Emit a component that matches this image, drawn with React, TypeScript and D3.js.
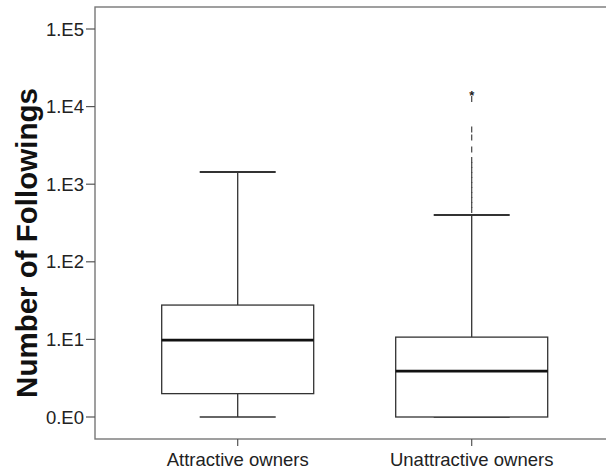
import React from "react";
import * as d3 from "d3";

// groups and five-number summaries
const groups = ["Attractive owners", "Unattractive owners"];
const whiskerLow = [1, 1];
const boxLow = [2, 1];
const medians = [9.8, 3.9];
const boxHigh = [27.7, 10.7];
const whiskerHigh = [1440, 400];

// outliers of the second group (drawn as short dashes), extreme as a star
const outlierValues = [465, 540, 626, 726, 842, 977, 1133, 1314, 1524, 1767, 2050, 2800, 4000, 5070, 12500];
const extremeValues = [15900];

const tickValues = [1, 10, 100, 1000, 10000, 100000];
const tickLabels = ["0.E0", "1.E1", "1.E2", "1.E3", "1.E4", "1.E5"];

const W = 606, H = 470;
const frame = { left: 95, top: 7, right: 612, bottom: 439 };

export default function App() {
  const y = d3.scaleLog().domain([1, 1e5]).range([417, 29]);
  const x = d3.scalePoint().domain(groups).range([237.7, 471.7]);
  const boxW = 152;
  const capW = 76;
  const font = "Arial, 'Liberation Sans', Helvetica, sans-serif";

  return (
    <svg width={W} height={H} style={{ position: "absolute", left: 0, top: 0 }}>
      <rect width={W} height={H} fill="#fff" />
      {/* frame */}
      <rect
        x={frame.left}
        y={frame.top}
        width={frame.right - frame.left}
        height={frame.bottom - frame.top}
        fill="none"
        stroke="#777"
        strokeWidth={1.4}
      />
      {/* y ticks */}
      {tickValues.map((v, i) => (
        <g key={v}>
          <line x1={86} x2={frame.left} y1={y(v)} y2={y(v)} stroke="#555" strokeWidth={1.2} />
          <text
            x={84}
            y={y(v)}
            dy="0.36em"
            textAnchor="end"
            fontFamily={font}
            fontSize={18.5}
            fill="#222"
          >
            {tickLabels[i]}
          </text>
        </g>
      ))}
      {/* x ticks + labels */}
      {groups.map((g) => (
        <g key={g}>
          <line x1={x(g)} x2={x(g)} y1={frame.bottom} y2={frame.bottom + 7} stroke="#555" strokeWidth={1.2} />
          <text x={x(g)} y={466} textAnchor="middle" fontFamily={font} fontSize={18.5} fill="#222">
            {g}
          </text>
        </g>
      ))}
      {/* y title */}
      <text
        transform={`translate(37,${(y(1) + y(1e5)) / 2 + 20}) rotate(-90)`}
        textAnchor="middle"
        fontFamily={font}
        fontWeight="bold"
        fontSize={29.5}
        fill="#111"
      >
        Number of Followings
      </text>
      {/* boxes */}
      {groups.map((g, i) => {
        const cx = x(g) as number;
        return (
          <g key={g} stroke="#333">
            <line x1={cx} x2={cx} y1={y(boxHigh[i])} y2={y(whiskerHigh[i])} strokeWidth={1.3} />
            <line x1={cx} x2={cx} y1={y(boxLow[i])} y2={y(whiskerLow[i])} strokeWidth={1.3} />
            <line x1={cx - capW / 2} x2={cx + capW / 2} y1={y(whiskerHigh[i])} y2={y(whiskerHigh[i])} strokeWidth={2} />
            <line x1={cx - capW / 2} x2={cx + capW / 2} y1={y(whiskerLow[i])} y2={y(whiskerLow[i])} strokeWidth={1.5} />
            <rect
              x={cx - boxW / 2}
              y={y(boxHigh[i])}
              width={boxW}
              height={y(boxLow[i]) - y(boxHigh[i])}
              fill="#fff"
              strokeWidth={1.3}
            />
            <line x1={cx - boxW / 2} x2={cx + boxW / 2} y1={y(medians[i])} y2={y(medians[i])} stroke="#111" strokeWidth={2.6} />
          </g>
        );
      })}
      {/* outliers */}
      {outlierValues.map((v, j) => (
        <line
          key={j}
          x1={x(groups[1])}
          x2={x(groups[1])}
          y1={y(v) - 3}
          y2={y(v) + 3}
          stroke="#444"
          strokeWidth={1.2}
        />
      ))}
      {extremeValues.map((v, j) => (
        <text
          key={j}
          x={x(groups[1])}
          y={y(v)}
          dy="0.7em"
          textAnchor="middle"
          fontFamily={font}
          fontSize={13}
          fontWeight="bold"
          fill="#222"
        >
          *
        </text>
      ))}
    </svg>
  );
}
